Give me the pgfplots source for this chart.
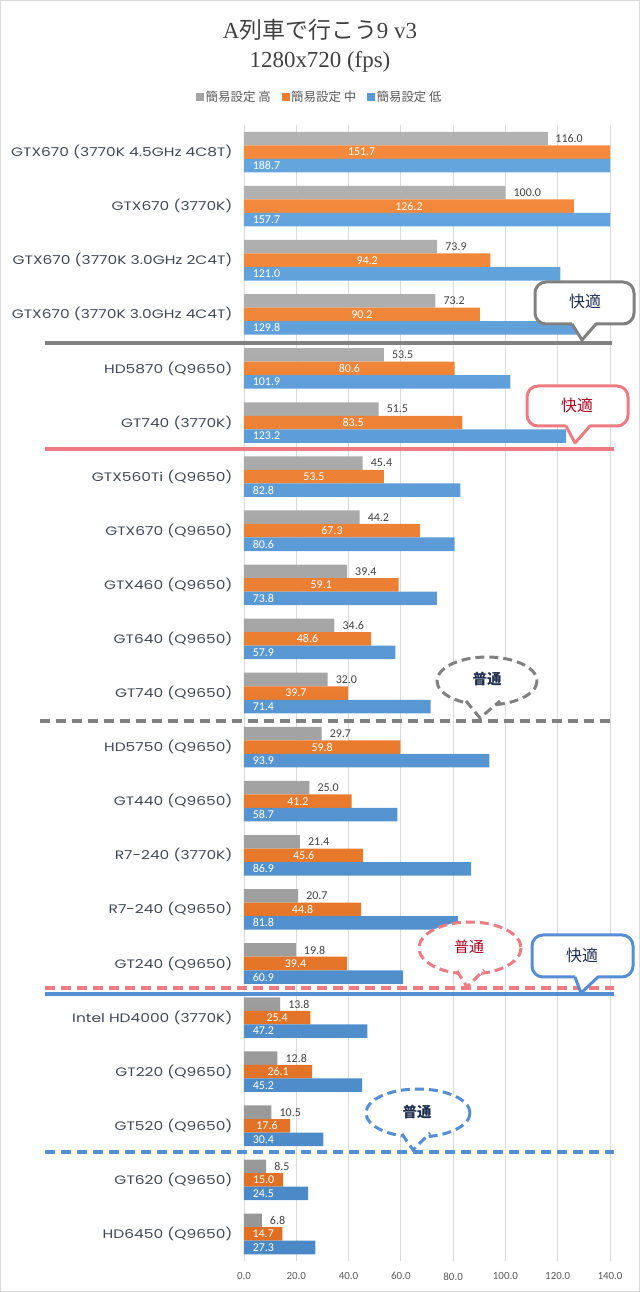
\documentclass[border=0pt]{standalone}
\usepackage{pgfplots}
\pgfplotsset{compat=1.18}
\usepackage{pgfplotstable}
\usepackage{fontspec}
\setmainfont{Carlito}
\newfontfamily\cjk{Noto Sans CJK JP}
\newfontfamily\catfont[FakeStretch=1.26]{Poppins}
\newfontfamily\titlefont{Liberation Serif}
\definecolor{cgray}{HTML}{A5A5A5}
\definecolor{cgrayT}{HTML}{B2B2B2}
\definecolor{cgrayB}{HTML}{979797}
\definecolor{corange}{HTML}{ED7D31}
\definecolor{corangeT}{HTML}{F38A3E}
\definecolor{corangeB}{HTML}{E06F22}
\definecolor{cblue}{HTML}{5B9BD5}
\definecolor{cblueT}{HTML}{65A5DE}
\definecolor{cblueB}{HTML}{4A88C6}
\definecolor{gridgray}{HTML}{D9D9D9}
\definecolor{txt}{HTML}{404040}
\definecolor{cattxt}{HTML}{3F4756}
\definecolor{ticktxt}{HTML}{595959}
\definecolor{lgray}{HTML}{808080}
\definecolor{lpink}{HTML}{EE7A82}
\definecolor{lblue}{HTML}{558ED5}
\definecolor{navy}{HTML}{1F3050}
\definecolor{dred}{HTML}{B00020}

\pgfplotstableread{
y g o b ox
20 116.0 151.7 188.7 45.0
19 100.0 126.2 157.7 63.1
18 73.9 94.2 121.0 47.1
17 73.2 90.2 129.8 45.1
16 53.5 80.6 101.9 40.3
15 51.5 83.5 123.2 41.75
14 45.4 53.5 82.8 26.75
13 44.2 67.3 80.6 33.65
12 39.4 59.1 73.8 29.55
11 34.6 48.6 57.9 24.3
10 32.0 39.7 71.4 19.85
9 29.7 59.8 93.9 29.9
8 25.0 41.2 58.7 20.6
7 21.4 45.6 86.9 22.8
6 20.7 44.8 81.8 22.4
5 19.8 39.4 60.9 19.7
4 13.8 25.4 47.2 12.7
3 12.8 26.1 45.2 13.05
2 10.5 17.6 30.4 8.8
1 8.5 15.0 24.5 7.5
0 6.8 14.7 27.3 7.35
}\data

\begin{document}
\begin{tikzpicture}
\begin{axis}[
  at={(0,0)}, anchor=south west,
  scale only axis, width=366bp, height=1136bp,
  xmin=0, xmax=140, ymin=-0.5, ymax=20.5,
  xtick={0,20,40,60,80,100,120,140},
  xticklabels={0.0,20.0,40.0,60.0,80.0,100.0,120.0,140.0},
  ytick={0,...,20},
  yticklabels={HD6450 (Q9650),GT620 (Q9650),GT520 (Q9650),GT220 (Q9650),Intel HD4000 (3770K),GT240 (Q9650),R7-240 (Q9650),R7-240 (3770K),GT440 (Q9650),HD5750 (Q9650),GT740 (Q9650),GT640 (Q9650),GTX460 (Q9650),GTX670 (Q9650),GTX560Ti (Q9650),GT740 (3770K),HD5870 (Q9650),GTX670 (3770K 3.0GHz 4C4T),GTX670 (3770K 3.0GHz 2C4T),GTX670 (3770K),GTX670 (3770K 4.5GHz 4C8T)},
  yticklabel style={font=\catfont\fontsize{12.3}{14}\selectfont, text=cattxt, xshift=-8bp},
  xticklabel style={font=\fontsize{11}{13}\selectfont, text=ticktxt, yshift=-8bp},
  xmajorgrids, major grid style={draw=gridgray, line width=0.8bp},
  axis line style={draw=none}, tick style={draw=none},
  legend columns=3,
  legend style={at={(0.2077,1.0246)}, anchor=center, draw=none, fill=none,
    font=\cjk\fontsize{12.5}{14}\selectfont, text=ticktxt,
    /tikz/every even column/.append style={column sep=9bp}},
]
\addplot[xbar, bar width=0.25, bar shift=0.25, draw=none, top color=cgrayT, bottom color=cgrayB, forget plot] table[x=g,y=y]{\data};
\addplot[xbar, bar width=0.25, bar shift=0, draw=none, top color=corangeT, bottom color=corangeB, forget plot] table[x=o,y=y]{\data};
\addplot[xbar, bar width=0.25, bar shift=-0.25, draw=none, top color=cblueT, bottom color=cblueB, forget plot] table[x=b,y=y]{\data};
% data labels
\addplot[draw=none, mark=none, forget plot, nodes near coords, point meta=explicit symbolic,
  nodes near coords style={anchor=west, font=\fontsize{12}{13}\selectfont, text=txt, inner sep=0pt, xshift=8bp}]
  table[x=g, y expr=\thisrow{y}+0.25, meta=g]{\data};
\addplot[draw=none, mark=none, forget plot, nodes near coords, point meta=explicit symbolic,
  nodes near coords style={anchor=center, font=\fontsize{12}{13}\selectfont, text=white, inner sep=0pt}]
  table[x=ox, y=y, meta=o]{\data};
\addplot[draw=none, mark=none, forget plot, nodes near coords, point meta=explicit symbolic,
  nodes near coords style={anchor=west, font=\fontsize{12}{13}\selectfont, text=white, inner sep=0pt}]
  table[x expr=3.3, y expr=\thisrow{y}-0.25, meta=b]{\data};
\addlegendimage{legend image code/.code={\fill[cgray] (0bp,-3.5bp) rectangle (7bp,3.5bp);}}
\addlegendentry{簡易設定 高}
\addlegendimage{legend image code/.code={\fill[corange] (0bp,-3.5bp) rectangle (7bp,3.5bp);}}
\addlegendentry{簡易設定 中}
\addlegendimage{legend image code/.code={\fill[cblue] (0bp,-3.5bp) rectangle (7bp,3.5bp);}}
\addlegendentry{簡易設定 低}
\end{axis}
\begin{scope}[x=1bp, y=-1bp, shift={(-244bp,1261bp)}]
  \draw[draw=gridgray, line width=1bp] (0.5,0.5) rectangle (639.5,1291.5);
  \node[font=\fontsize{23}{25}\selectfont, text=txt] at (320,30) {\titlefont A\cjk 列車で行こう\titlefont 9 v3};
  \node[font=\fontsize{23}{25}\selectfont, text=txt] at (320,62) {\titlefont 1280x720 (fps)};
  % separator lines
  \draw[lgray, line width=3.5bp] (45,343) -- (612,343);
  \draw[lpink, line width=3.5bp] (45,449) -- (614,449);
  \draw[lgray, line width=3.5bp, dash pattern=on 10bp off 6bp] (40,721) -- (612,721);
  \draw[lpink, line width=3.5bp, dash pattern=on 10bp off 6bp] (45,988) -- (614,988);
  \draw[lblue, line width=3.5bp] (45,994) -- (614,994);
  \draw[lblue, line width=3.5bp, dash pattern=on 10bp off 6bp] (45,1152) -- (614,1152);
  % callout 1 gray
  \draw[lgray, line width=3bp, fill=white, line join=round] (572,324) -- (582,340) -- (596,324) [rounded corners=11bp] -- (634,324) -- (634,282) -- (535,282) -- (535,324) -- (572,324);
  \node[font=\cjk\fontsize{16}{18}\selectfont, text=navy] at (585,301) {快適};
  % callout 2 pink
  \draw[lpink, line width=3bp, fill=white, line join=round] (566,426) -- (575,443) -- (590,426) [rounded corners=11bp] -- (628,426) -- (628,386) -- (527,386) -- (527,426) -- (566,426);
  \node[font=\cjk\fontsize{16}{18}\selectfont, text=dred] at (577,405) {快適};
  % callout 3 gray dashed oval
  \fill[white] (487,681) ellipse [x radius=50, y radius=24];
  \draw[lgray, line width=3bp, dash pattern=on 9bp off 5bp] (487,681) ellipse [x radius=50, y radius=24];
  \fill[white] (466,700) -- (480,718) -- (500,699) -- cycle;
  \draw[lgray, line width=3bp, dash pattern=on 9bp off 5bp] (466,701) -- (480,718) -- (500,701);
  \node[font=\cjk\bfseries\fontsize{14.5}{16}\selectfont, text=navy] at (487,679) {普通};
  % callout 4 pink dashed oval
  \fill[white] (470,948) ellipse [x radius=51, y radius=26];
  \draw[lpink, line width=3bp, dash pattern=on 9bp off 5bp] (470,948) ellipse [x radius=51, y radius=26];
  \fill[white] (457,971) -- (467,987) -- (484,970) -- cycle;
  \draw[lpink, line width=3bp, dash pattern=on 9bp off 5bp] (457,971) -- (467,987) -- (484,970);
  \node[font=\cjk\fontsize{15}{16}\selectfont, text=dred] at (469,947) {普通};
  % callout 5 blue
  \draw[lblue, line width=3bp, fill=white, line join=round] (575,977) -- (581,993) -- (598,977) [rounded corners=11bp] -- (633,977) -- (633,935) -- (532,935) -- (532,977) -- (575,977);
  \node[font=\cjk\fontsize{16}{18}\selectfont, text=navy] at (582,955) {快適};
  % callout 6 blue dashed oval
  \fill[white] (418,1113) ellipse [x radius=52, y radius=24];
  \draw[lblue, line width=3bp, dash pattern=on 9bp off 5bp] (418,1113) ellipse [x radius=52, y radius=24];
  \fill[white] (402,1133) -- (413,1150) -- (430,1132) -- cycle;
  \draw[lblue, line width=3bp, dash pattern=on 9bp off 5bp] (402,1134) -- (413,1150) -- (430,1133);
  \node[font=\cjk\bfseries\fontsize{14.5}{16}\selectfont, text=navy] at (417,1112) {普通};
\end{scope}
\end{tikzpicture}
\end{document}
